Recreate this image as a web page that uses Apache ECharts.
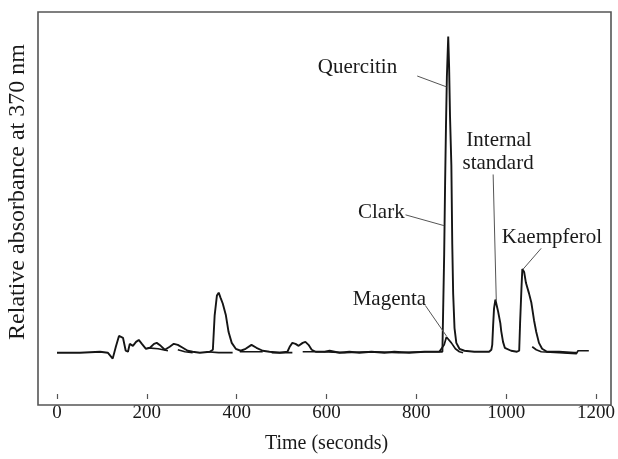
<!DOCTYPE html>
<html>
<head>
<meta charset="utf-8">
<script src="https://cdn.jsdelivr.net/npm/echarts@6/dist/echarts.min.js"></script>
<style>
html,body{margin:0;padding:0;background:#fff;}
#c{width:618px;height:459px;}
</style>
</head>
<body>
<div id="c"></div>
<script>
// Trace 1 (Clark) – time (s) and relative absorbance (arbitrary units)
const clarkTime = [0,51,96,113,124,131,138,142,147,153,158,162,169,176,182,189,198,207,216,222,231,240,251,260,269,280,291,302,318,340,347,351,356,360,364,369,376,382,389,398,409,420,433,444,458,473,496,513,518,524,531,538,547,553,560,567,576,596,607,629,651,673,700,729,751,784,818,847,858,860,862,864,866,868,871,873,875,878,880,882,885,889,896,907,929,962,967,969,971,973,976,978,980,982,984,987,989,993,997,1000,1011,1024,1027,1029,1031,1034,1036,1040,1044,1051,1056,1062,1067,1073,1080,1091,1118,1151,1156];
const clarkAbs  = [0,0,1,0,-6,6,17,19,15,2,1,9,7,11,13,9,4,5,9,10,7,3,6,9,8,5,2,1,0,1,3,38,58,61,56,50,38,21,10,4,2,4,8,5,2,1,0,1,6,10,9,7,10,11,8,3,1,1,2,0,1,0,1,0,1,0,1,1,1,2,100,170,230,280,321,290,240,190,110,60,25,10,4,2,1,1,3,8,28,45,54,50,46,42,40,30,22,11,5,3,2,1,1,2,30,65,85,82,71,60,51,33,21,10,4,1,1,0,0];

// Trace 2 (Magenta) – gaps marked with null
const magentaTime = [202,225,247,248,269,285,302,303,333,360,391,392,407,430,458,459,478,500,524,525,547,570,591,640,700,760,820,851,862,867,871,878,887,896,904,905,1058,1067,1078,1118,1156,1160,1184];
const magentaAbs  = [5,4,2,null,3,1,0,null,1,0,0,null,1,1,1,null,0,0,0,null,1,1,1,0,1,0,1,1,8,16,15,10,4,1,0,null,6,3,1,0,-1,2,2];

// Axis ticks
const xTicks = [0,200,400,600,800,1000,1200];

// Annotations: label text, label anchor (time, abs), leader line from -> to
const annLabels = [
  {text:'Quercitin', t:669, v:290},
  {text:'Clark', t:722, v:142},
  {text:'Magenta', t:740, v:54},
  {text:'Internal', t:984, v:216},
  {text:'standard', t:982, v:192},
  {text:'Kaempferol', t:1102, v:117}
];
const annLines = [
  [[802,281],[867,270]],
  [[776,140],[862,129]],
  [[820,48],[867,17]],
  [[971,181],[978,53]],
  [[1078,106],[1038,85]]
];

function pairs(ts, vs){ return ts.map((t,i)=>[t, vs[i]===null ? '-' : vs[i]]); }

const FONT = '"Liberation Serif","Times New Roman",serif';
const chart = echarts.init(document.getElementById('c'), null, {renderer:'canvas'});
chart.setOption({
  animation:false,
  backgroundColor:'#fff',
  grid:{left:57, right:21, top:12, bottom:54, show:false},
  xAxis:{
    type:'value', min:xTicks[0], max:xTicks[xTicks.length-1], interval:200,
    axisLine:{show:false, onZero:false},
    axisTick:{show:true, inside:true, length:5, lineStyle:{color:'#555', width:1.2}},
    axisLabel:{color:'#1a1a1a', fontFamily:FONT, fontSize:19, margin:5, formatter:v=>String(v)},
    splitLine:{show:false},
    name:'Time (seconds)', nameLocation:'middle', nameGap:35,
    nameTextStyle:{color:'#1a1a1a', fontFamily:FONT, fontSize:20}
  },
  yAxis:{
    type:'value', min:-47, max:346,
    axisLine:{show:false}, axisTick:{show:false}, axisLabel:{show:false}, splitLine:{show:false}
  },
  graphic:[
    {type:'rect', shape:{x:38, y:12, width:573, height:393}, style:{fill:null, stroke:'#555', lineWidth:1.6}, z:10},
    {type:'text', x:18, y:192, rotation:Math.PI/2,
     style:{text:'Relative absorbance at 370 nm', fontFamily:FONT, fontSize:24, fill:'#1a1a1a', align:'center', verticalAlign:'middle'}}
  ],
  series:[
    {
      name:'Clark', type:'line', data:pairs(clarkTime, clarkAbs), showSymbol:false, symbol:'none',
      lineStyle:{color:'#151515', width:1.9}, z:3,
      markLine:{
        silent:true, symbol:'none', label:{show:false},
        lineStyle:{color:'#555', width:1, type:'solid'},
        data: annLines.map(l=>[{coord:l[0]},{coord:l[1]}])
      },
      markPoint:{
        silent:true, symbol:'circle', symbolSize:0,
        label:{show:true, position:'inside', color:'#1a1a1a', fontFamily:FONT, fontSize:21,
               formatter:p=>p.name},
        data: annLabels.map(a=>({name:a.text, coord:[a.t, a.v]}))
      }
    },
    {
      name:'Magenta', type:'line', data:pairs(magentaTime, magentaAbs), showSymbol:false, symbol:'none',
      connectNulls:false,
      lineStyle:{color:'#151515', width:1.7}, z:2
    }
  ]
});
</script>
</body>
</html>
